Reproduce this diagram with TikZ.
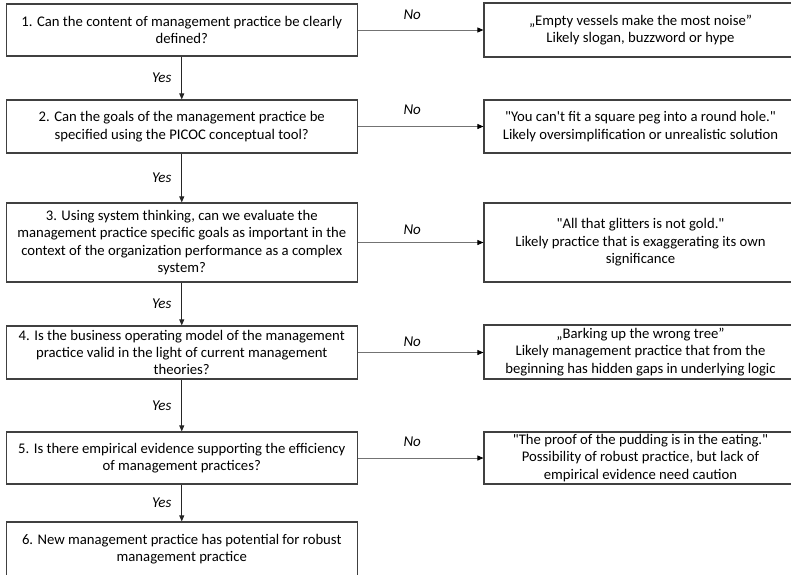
\documentclass[tikz,border=0pt]{standalone}
\usepackage{fontspec}
\setmainfont{Carlito}[Ligatures=TeXOff]
\usetikzlibrary{arrows.meta}
\begin{document}
\begin{tikzpicture}[x=1pt,y=-1pt,
  txt/.style={font=\fontsize{14.7}{17.4}\selectfont, align=center, inner sep=0pt},
  lbox/.style={txt, draw=black!75, line width=1.2pt, minimum width=351pt},
  rbox/.style={txt, draw=black!75, line width=1.2pt, minimum width=313pt},
  yesarrow/.style={draw=black!85, line width=0.8pt, -{Triangle[length=6pt,width=5pt]}},
  noarrow/.style={draw=black!55, line width=0.8pt, -{Triangle[length=6pt,width=5pt,fill=black,color=black]}},
  lab/.style={font=\fontsize{15}{17}\selectfont\itshape, inner sep=0pt}
]
\useasboundingbox (0,0) rectangle (791,574);
\clip (0,0) rectangle (791,574);

\node[lbox, minimum height=52pt] (b1) at (181.75,30) {1. Can the content of management practice be clearly\\defined?};
\node[lbox, minimum height=53pt] (b2) at (181.75,126.5) {2. Can the goals of the management practice be\\specified using the PICOC conceptual tool?};
\node[lbox, minimum height=79pt] (b3) at (181.75,242.5) {3. Using system thinking, can we evaluate the\\management practice specific goals as important in the\\context of the organization performance as a complex\\system?};
\node[lbox, minimum height=53pt] (b4) at (181.75,352.5) {4. Is the business operating model of the management\\practice valid in the light of current management\\theories?};
\node[lbox, minimum height=52pt] (b5) at (181.75,458) {5. Is there empirical evidence supporting the efficiency\\of management practices?};
\node[lbox, minimum height=54pt] (b6) at (181.75,549) {6. New management practice has potential for robust\\management practice};

\node[rbox, minimum height=54pt] (r1) at (640.5,30) {„Empty vessels make the most noise”\\Likely slogan, buzzword or hype};
\node[rbox, minimum height=53pt] (r2) at (640.5,126.5) {"You can't fit a square peg into a round hole."\\Likely oversimplification or unrealistic solution};
\node[rbox, minimum height=79pt] (r3) at (640.5,242.5) {"All that glitters is not gold."\\Likely practice that is exaggerating its own\\significance};
\node[rbox, minimum height=54pt] (r4) at (640.5,352) {„Barking up the wrong tree”\\Likely management practice that from the\\beginning has hidden gaps in underlying logic};
\node[rbox, minimum height=52pt] (r5) at (640.5,458) {"The proof of the pudding is in the eating."\\Possibility of robust practice, but lack of\\empirical evidence need caution};

\draw[yesarrow] (b1.south) -- node[lab, left, xshift=-10pt] {Yes} (b2.north);
\draw[yesarrow] (b2.south) -- node[lab, left, xshift=-10pt] {Yes} (b3.north);
\draw[yesarrow] (b3.south) -- node[lab, left, xshift=-10pt] {Yes} (b4.north);
\draw[yesarrow] (b4.south) -- node[lab, left, xshift=-10pt] {Yes} (b5.north);
\draw[yesarrow] (b5.south) -- node[lab, left, xshift=-10pt] {Yes} (b6.north);

\draw[noarrow] (b1.east) -- node[lab, pos=0.433, yshift=15pt] {No} (b1.east -| r1.west);
\draw[noarrow] (b2.east) -- node[lab, pos=0.433, yshift=17pt] {No} (b2.east -| r2.west);
\draw[noarrow] (b3.east) -- node[lab, pos=0.433, yshift=13pt] {No} (b3.east -| r3.west);
\draw[noarrow] (b4.east) -- node[lab, pos=0.433, yshift=11pt] {No} (b4.east -| r4.west);
\draw[noarrow] (b5.east) -- node[lab, pos=0.433, yshift=16pt] {No} (b5.east -| r5.west);
\end{tikzpicture}
\end{document}
